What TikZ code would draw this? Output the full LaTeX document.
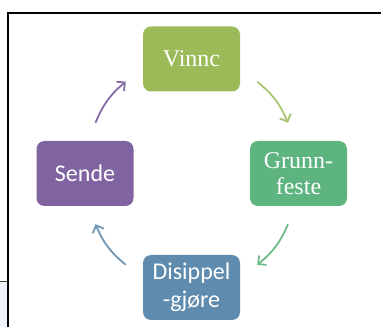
\documentclass[tikz,border=0pt]{standalone}
\usepackage{fontspec}
\setmainfont{Liberation Serif}
\newfontfamily\calibri{Carlito}
\usetikzlibrary{arrows.meta,calc}

\definecolor{vinncgreen}{HTML}{9BBB59}
\definecolor{grunngreen}{HTML}{5DB47E}
\definecolor{disippelblue}{HTML}{5F8CAE}
\definecolor{sendepurple}{HTML}{8064A2}
\definecolor{framefill}{HTML}{EEF3FB}

\tikzset{
	stage/.style={rounded corners=8pt, minimum width=97pt, minimum height=65pt,
		inner sep=0pt, text=white, align=center, font=\fontsize{24}{26}\selectfont},
	cyc/.style={-{Straight Barb[length=6pt,width=12pt]}, line width=1.8pt}
}

\begin{document}
\begin{tikzpicture}[x=1pt,y=1pt]
			%%%%% FRAME %%%%%
			\useasboundingbox (0, 0) rectangle (381, 327);
			\fill[framefill] (0, 0) rectangle (8, 45.5);
			\draw[line width=0.6pt, black!75] (0, 46) -- (8, 46);
			\draw[line width=1.6pt] (8, 0) -- (8, 314) -- (381, 314);
			
			%%%%% STAGES %%%%%
			\node[stage, fill=vinncgreen] (vinnc) at (191.5, 268) {Vinnc};
			\node[stage, fill=grunngreen] (grunn) at (298.5, 153.5) {Grunn-\\feste};
			\node[stage, fill=disippelblue, font=\calibri\fontsize{24}{28}\selectfont] (disippel) at (191.5, 39.5) {Disippel\\-gjøre};
			\node[stage, fill=sendepurple, font=\calibri\fontsize{24}{28}\selectfont] (sende) at (85, 153.5) {Sende};
			
			%%%%% CYCLE %%%%%
			\draw[cyc, vinncgreen!85!white] ($(vinnc.south east)+(17, 10)$) to[bend left=14] ($(grunn.north)+(-10.5, 18)$);
			\draw[cyc, grunngreen!90!white] ($(grunn.south)+(-10.5, -18)$) to[bend left=14] ($(disippel.north east)+(17, -10)$);
			\draw[cyc, disippelblue!90!white] ($(disippel.north west)+(-17, -10)$) to[bend left=14] ($(sende.south)+(10.5, -18)$);
			\draw[cyc, sendepurple!95!white] ($(sende.north)+(10.5, 18)$) to[bend left=14] ($(vinnc.south west)+(-17, 10)$);
		\end{tikzpicture}
\end{document}
